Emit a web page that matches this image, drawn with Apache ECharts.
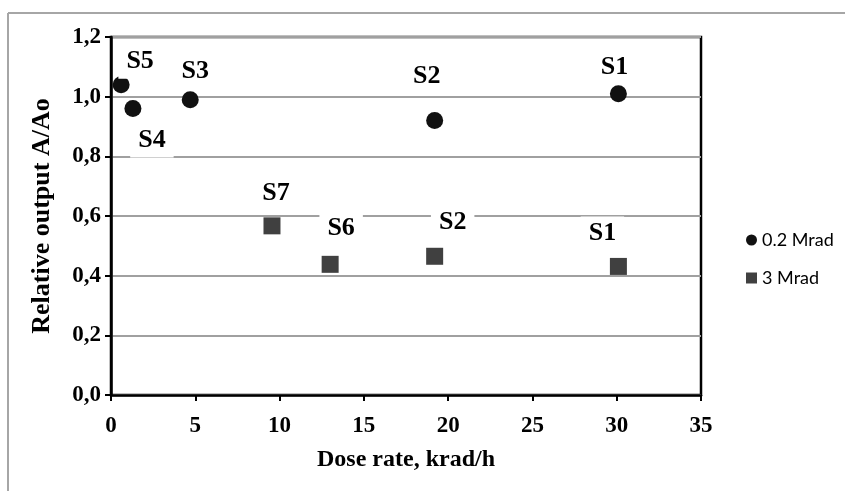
<!DOCTYPE html>
<html>
<head>
<meta charset="utf-8">
<script src="https://cdn.jsdelivr.net/npm/echarts@6/dist/echarts.min.js"></script>
<style>
  html, body { margin: 0; padding: 0; background: #fff; }
  #chart { width: 845px; height: 491px; }
</style>
</head>
<body>
<div id="chart"></div>
<script>
// Relative output vs dose rate, two total-dose groups
const seriesNames = ['0.2 Mrad', '3 Mrad'];

const doseRateLow = [0.6, 1.3, 4.7, 19.2, 30.1];
const outputLow   = [1.04, 0.96, 0.99, 0.92, 1.01];
const samplesLow  = ['S5', 'S4', 'S3', 'S2', 'S1'];

const doseRateHigh = [9.55, 13.0, 19.2, 30.1];
const outputHigh   = [0.567, 0.438, 0.465, 0.431];
const samplesHigh  = ['S7', 'S6', 'S2', 'S1'];

const xTicks = { min: 0, max: 35, step: 5 };
const yTicks = { min: 0, max: 1.2, step: 0.2 };

// sample tag placement around each marker (pixels)
const tagOffsetLow  = [[19, -23], [19, 32], [5, -28], [-8, -44], [-4, -26]];
const tagOffsetHigh = [[4, -33], [11, -36], [18, -34], [-16, -33]];

const serif = '"Liberation Serif", "Times New Roman", serif';

function buildPoints(xs, ys, names, offsets) {
  return xs.map((x, i) => ({
    name: names[i],
    value: [x, ys[i]],
    label: { offset: offsets[i] }
  }));
}

const tagLabel = {
  show: true,
  position: 'inside',
  formatter: p => p.name,
  fontFamily: serif,
  fontWeight: 'bold',
  fontSize: 26,
  lineHeight: 24,
  color: '#000',
  backgroundColor: '#fff',
  padding: [5, 8]
};

const chart = echarts.init(document.getElementById('chart'), null, { renderer: 'canvas' });

chart.setOption({
  animation: false,
  backgroundColor: '#fff',
  graphic: [
    { type: 'line', shape: { x1: 8, y1: 13, x2: 845, y2: 13 }, style: { stroke: '#a6a6a6', lineWidth: 2 } },
    { type: 'line', shape: { x1: 8, y1: 13, x2: 8, y2: 491 }, style: { stroke: '#a6a6a6', lineWidth: 2 } }
  ],
  grid: {
    left: 111, right: 144, top: 37, bottom: 96,
    show: true, borderColor: '#000', borderWidth: 2.5
  },
  legend: {
    orient: 'vertical',
    left: 741,
    top: 225,
    itemWidth: 11,
    itemHeight: 11,
    itemGap: 18,
    textStyle: { fontFamily: 'Lato, "Liberation Sans", sans-serif', fontSize: 18, lineHeight: 20, color: '#000' },
    data: [
      { name: seriesNames[0], icon: 'circle' },
      { name: seriesNames[1], icon: 'rect' }
    ]
  },
  xAxis: {
    type: 'value',
    min: xTicks.min, max: xTicks.max, interval: xTicks.step,
    name: 'Dose rate, krad/h',
    nameLocation: 'middle',
    nameGap: 53,
    nameTextStyle: { fontFamily: serif, fontWeight: 'bold', fontSize: 24, color: '#000' },
    axisLine: { show: true, onZero: false, lineStyle: { color: '#000', width: 2.5 } },
    axisTick: { show: true, inside: false, length: 6, lineStyle: { color: '#000', width: 2 } },
    axisLabel: { margin: 20, fontFamily: serif, fontWeight: 'bold', fontSize: 23, color: '#000' },
    splitLine: { show: false }
  },
  yAxis: {
    type: 'value',
    min: yTicks.min, max: yTicks.max, interval: yTicks.step,
    name: 'Relative output A/Ao',
    nameLocation: 'middle',
    nameGap: 56,
    nameRotate: 90,
    nameTextStyle: { fontFamily: serif, fontWeight: 'bold', fontSize: 26, color: '#000' },
    axisLine: { show: true, onZero: false, lineStyle: { color: '#000', width: 2.5 } },
    axisTick: { show: true, inside: false, length: 6, lineStyle: { color: '#000', width: 2 } },
    axisLabel: {
      margin: 10, fontFamily: serif, fontWeight: 'bold', fontSize: 23, color: '#000',
      formatter: v => v.toFixed(1).replace('.', ',')
    },
    splitLine: { show: true, lineStyle: { color: '#a0a0a0', width: 2 } }
  },
  series: [
    {
      name: seriesNames[0],
      type: 'scatter',
      symbol: 'circle',
      symbolSize: 17,
      itemStyle: { color: '#111', opacity: 1 },
      label: tagLabel,
      data: buildPoints(doseRateLow, outputLow, samplesLow, tagOffsetLow)
    },
    {
      name: seriesNames[1],
      type: 'scatter',
      symbol: 'rect',
      symbolSize: 17,
      itemStyle: { color: '#404040', opacity: 1 },
      label: tagLabel,
      data: buildPoints(doseRateHigh, outputHigh, samplesHigh, tagOffsetHigh)
    }
  ]
});
</script>
</body>
</html>
